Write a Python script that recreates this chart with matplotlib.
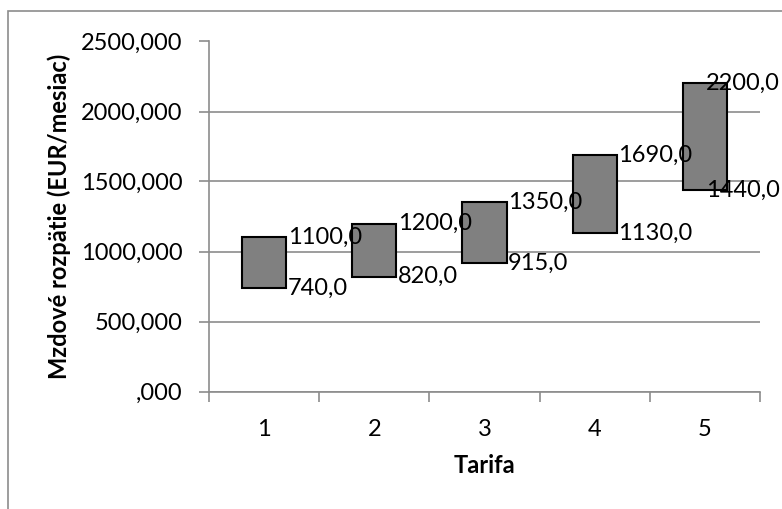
"""Wage range per tariff class - floating bar chart."""

import matplotlib
matplotlib.use("Agg")
import matplotlib.pyplot as plt
from matplotlib.patches import Rectangle
from matplotlib.ticker import FixedLocator, FuncFormatter

tarify = ["1", "2", "3", "4", "5"]
minimum = [740, 820, 915, 1130, 1440]
maximum = [1100, 1200, 1350, 1690, 2200]
y_ticks = [0, 500, 1000, 1500, 2000, 2500]

plt.rcParams["font.family"] = ["Lato", "DejaVu Sans"]
plt.rcParams["font.size"] = 17

W, H = 782, 509
fig = plt.figure(figsize=(W / 100, H / 100), dpi=100)

# outer chart border (runs off the image on the right and bottom)
fig.patches.append(Rectangle((8 / W, -0.2), 1.2, 1.2 - 11 / H, transform=fig.transFigure,
                             fill=False, edgecolor="#8c8c8c", linewidth=1.2))

ax = fig.add_axes([209 / W, (H - 391.5) / H, 551 / W, 350 / H])

x = list(range(len(tarify)))
heights = [hi - lo for lo, hi in zip(minimum, maximum)]
ax.bar(x, heights, bottom=minimum, width=0.4, color="#808080",
       edgecolor="black", linewidth=1.5, zorder=3)

ax.set_xlim(-0.5, len(tarify) - 0.5)
ax.set_ylim(0, 2500)

ax.yaxis.set_major_locator(FixedLocator(y_ticks))


def fmt_y(v, pos):
    s = f"{v:.3f}".replace(".", ",")
    return s[1:] if v == 0 else s


ax.yaxis.set_major_formatter(FuncFormatter(fmt_y))
ax.xaxis.set_major_locator(FixedLocator([i - 0.5 for i in range(len(tarify) + 1)]))
ax.xaxis.set_major_formatter(FuncFormatter(lambda v, p: ""))
ax.xaxis.set_minor_locator(FixedLocator(x))
ax.set_xticklabels(tarify, minor=True)
ax.tick_params(axis="x", which="minor", length=0, pad=20)
ax.tick_params(axis="x", which="major", length=7, color="#8c8c8c", width=1.2)
ax.tick_params(axis="y", length=7, color="#8c8c8c", width=1.2, pad=12)

ax.grid(True, axis="y", color="#8c8c8c", linewidth=1.2, zorder=0)
for side in ["top", "right"]:
    ax.spines[side].set_visible(False)
for side in ["left", "bottom"]:
    ax.spines[side].set_color("#8c8c8c")
    ax.spines[side].set_linewidth(1.2)

for i, (lo, hi) in enumerate(zip(minimum, maximum)):
    for v in (hi, lo):
        label = f"{v:.1f}".replace(".", ",")
        if i == len(tarify) - 1:
            ax.annotate(label, (i + 0.5, v), xytext=(14, 0), textcoords="offset points",
                        ha="right", va="center", fontsize=17, zorder=4)
        else:
            ax.annotate(label, (i + 0.2, v), xytext=(1, 0), textcoords="offset points",
                        ha="left", va="center", fontsize=17, zorder=4)

ax.set_xlabel("Tarifa", fontweight="bold", fontsize=17, labelpad=10)
ax.set_ylabel("Mzdové rozpätie (EUR/mesiac)", fontweight="bold", fontsize=17, labelpad=7)

fig.savefig("out.png", dpi=100)
